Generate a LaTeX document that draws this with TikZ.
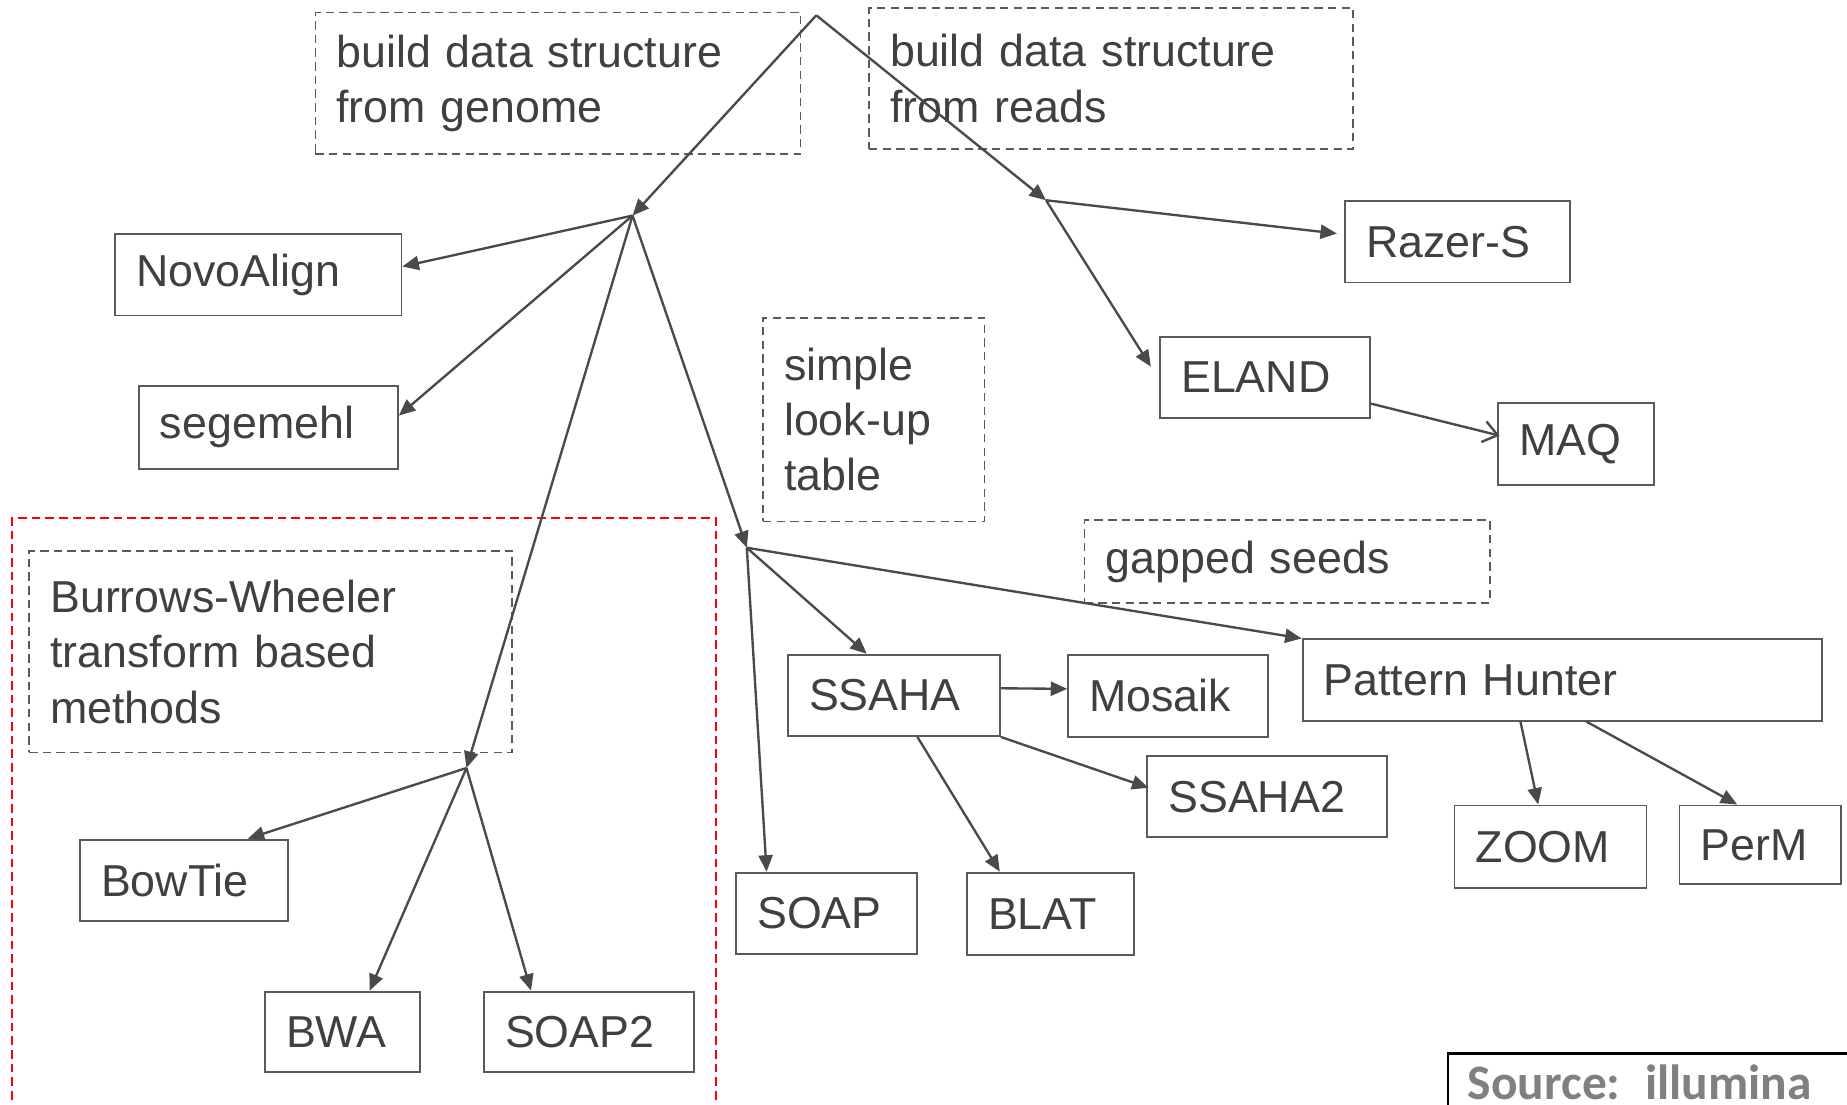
\documentclass[tikz,border=0pt]{standalone}
\usepackage{fontspec}
\setmainfont{Liberation Sans}
\newfontfamily\srcfont{Carlito}
\usetikzlibrary{arrows.meta,calc}
\definecolor{ink}{HTML}{404040}
\definecolor{edgec}{HTML}{4A4A4A}
\definecolor{boxc}{HTML}{5A5A5A}
\definecolor{srcc}{HTML}{808080}
\begin{document}
\begin{tikzpicture}[x=0.5pt,y=-0.5pt,
  box/.style={draw=boxc, line width=0.8pt, anchor=north west, inner xsep=9pt, inner ysep=0pt,
    align=left, text=ink, font=\fontsize{19}{23.5}\selectfont},
  dbox/.style={box, dash pattern=on 3.6pt off 2.2pt, line width=0.7pt},
  arr/.style={draw=edgec, line width=1pt, -{Triangle[length=7pt,width=6pt]}},
  oarr/.style={draw=edgec, line width=1pt, -{Straight Barb[length=6pt,width=9pt,line width=1pt]}}]
\useasboundingbox (0,0) rectangle (1568,938);
\fill[white] (0,0) rectangle (1568,938);

% dashed annotation boxes
\node[dbox, text width=188pt, minimum height=60pt] (gen) at (267,10) {build data structure\\from genome};
\node[dbox, text width=187.5pt, minimum height=60pt] (reads) at (737,6) {build data structure\\from reads};
\node[dbox, text width=76pt, minimum height=86.5pt] (simple) at (647,269) {simple\\look-up\\table};
\node[dbox, text width=187pt, minimum height=85.5pt] (bwt) at (24,467) {Burrows-Wheeler\\transform based\\methods};
\node[dbox, text width=154pt, minimum height=35pt] (gapped) at (920,441) {gapped seeds};

% red group
\draw[red, line width=0.7pt, dash pattern=on 3.6pt off 2.2pt] (10,945) -- (10,440) -- (608,440) -- (608,945);

% tool boxes
\node[box, text width=103.5pt, minimum height=34.5pt] (novo) at (97,198) {NovoAlign};
\node[box, text width=92pt, minimum height=35pt] (seg) at (117,327) {segemehl};
\node[box, text width=77.5pt, minimum height=34.5pt] (razer) at (1141,170) {Razer-S};
\node[box, text width=71pt, minimum height=34.5pt] (eland) at (984,285) {ELAND};
\node[box, text width=48pt, minimum height=35pt] (maq) at (1271,341) {MAQ};
\node[box, text width=70.5pt, minimum height=34.5pt] (bowtie) at (67,712) {BowTie};
\node[box, text width=48pt, minimum height=34pt] (bwa) at (224,841) {BWA};
\node[box, text width=71pt, minimum height=34pt] (soap2) at (410,841) {SOAP2};
\node[box, text width=72pt, minimum height=34.5pt] (ssaha) at (668,555) {SSAHA};
\node[box, text width=59pt, minimum height=34.5pt] (soap) at (624,740) {SOAP};
\node[box, text width=53pt, minimum height=35pt] (blat) at (820,740) {BLAT};
\node[box, text width=67pt, minimum height=35pt] (mosaik) at (906,555) {Mosaik};
\node[box, text width=84pt, minimum height=34.5pt] (ssaha2) at (973,641) {SSAHA2};
\node[box, text width=202.5pt, minimum height=34.5pt] (ph) at (1105,542) {Pattern Hunter};
\node[box, text width=63.5pt, minimum height=35pt] (zoom) at (1234,683) {ZOOM};
\node[box, text width=50.5pt, minimum height=33.5pt] (perm) at (1425,683) {PerM};

\node[draw=black, line width=1.2pt, anchor=north west, inner xsep=8.5pt, inner ysep=5pt,
  text width=200pt, align=left, text=srcc,
  font=\srcfont\bfseries\fontsize{21}{25}\selectfont] (src) at (1228,893) {Source: illumina};

% junctions
\coordinate (top) at (693,13);
\coordinate (jL) at (537,183);
\coordinate (jR) at (888,170);
\coordinate (jB) at (396,652);
\coordinate (jS) at (634,465);

% connectors
\draw[arr] (top) -- (jL);
\draw[arr] (top) -- (jR);
\draw[arr] (jR) -- ([xshift=-3pt,yshift=3.5pt]razer.west);
\draw[arr] (jR) -- ([xshift=-3.5pt,yshift=4.5pt]eland.west);
\draw[oarr] ([yshift=6.5pt]eland.south east) -- ([xshift=1pt,yshift=3.5pt]maq.west);
\draw[arr] (jL) -- ([yshift=3.5pt]novo.east);
\draw[arr] (jL) -- ([yshift=5pt]seg.east);
\draw[arr] (jL) -- (jB);
\draw[arr] (jL) -- (jS);
\draw[arr] (jB) -- ([xshift=27pt]bowtie.north);
\draw[arr] (jB) -- ([xshift=11.5pt]bwa.north);
\draw[arr] (jB) -- ([xshift=-24.5pt]soap2.north);
\draw[arr] (jS) -- ([xshift=-11.5pt]ssaha.north);
\draw[arr] (jS) -- ([xshift=-25.5pt]soap.north);
\draw[arr] (jS) -- (ph.north west);
\draw[arr] ([yshift=3pt]ssaha.east) -- ([yshift=3pt]mosaik.west);
\draw[arr] (ssaha.south east) -- ([xshift=1pt,yshift=3.75pt]ssaha2.west);
\draw[arr] ([xshift=10pt]ssaha.south) -- ([xshift=-21.5pt]blat.north);
\draw[arr] ([xshift=-17.75pt]ph.south) -- ([xshift=-5.25pt]zoom.north);
\draw[arr] ([xshift=10.25pt]ph.south) -- ([xshift=-9.75pt]perm.north);
\end{tikzpicture}
\end{document}
